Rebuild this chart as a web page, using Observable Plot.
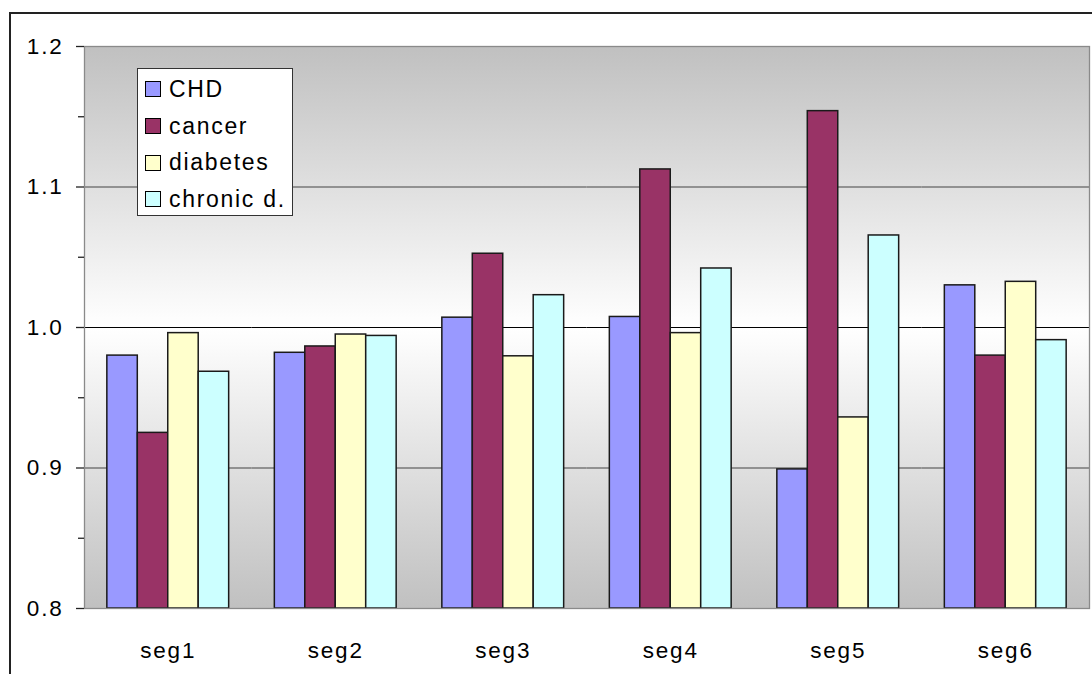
<!DOCTYPE html>
<html>
<head>
<meta charset="utf-8">
<script src="https://cdn.jsdelivr.net/npm/d3@7"></script>
<script src="https://cdn.jsdelivr.net/npm/@observablehq/plot@0.6"></script>
<style>
  html, body { margin: 0; padding: 0; background: #fff; }
  #wrap { position: relative; width: 1092px; height: 674px; overflow: hidden;
          font-family: "Liberation Sans", Arial, sans-serif; }
  #outer { position: absolute; left: 9px; top: 12px; width: 3000px; height: 3000px;
           border-left: 2px solid #222; border-top: 2px solid #222; }
  #chart svg { position: absolute; left: 0; top: 0; }
  #chart svg text { font-size: 22.5px; letter-spacing: 1.8px; }
  #legend { position: absolute; left: 137px; top: 68px; width: 156px; height: 148px;
            background: #fff; border: 1px solid #333; box-sizing: border-box; }
  .item { position: absolute; left: 0; height: 36.7px; display: flex; align-items: center;
          font-size: 23px; letter-spacing: 1.7px; color: #000; white-space: nowrap; }
  .sw { width: 16px; height: 16px; box-sizing: border-box; border: 1px solid #000;
        margin-left: 7px; margin-right: 8px; }
</style>
</head>
<body>
<div id="wrap">
  <div id="outer"></div>
  <div id="chart"></div>
  <div id="legend"></div>
</div>
<script>
// ---- data ----
const segments = ["seg1", "seg2", "seg3", "seg4", "seg5", "seg6"];
const series = ["CHD", "cancer", "diabetes", "chronic d."];
const CHD      = [0.980, 0.982, 1.007, 1.0075, 0.899, 1.030];
const cancer   = [0.925, 0.9865, 1.0525, 1.1125, 1.154, 0.980];
const diabetes = [0.996, 0.995, 0.9795, 0.996, 0.936, 1.0325];
const chronic  = [0.9685, 0.994, 1.023, 1.042, 1.0655, 0.991];
const yTicks = [0.8, 0.9, 1.0, 1.1, 1.2];
const yMinorTicks = [0.85, 0.95, 1.05, 1.15];
const colors = ["#9999FF", "#993366", "#FFFFCC", "#CCFFFF"];

const seriesValues = [CHD, cancer, diabetes, chronic];
const data = [];
segments.forEach((seg, i) => {
  series.forEach((s, j) => data.push({seg, series: s, value: seriesValues[j][i]}));
});

const yMin = yTicks[0], yMax = yTicks[yTicks.length - 1];

// left axis line, bottom axis line and category boundary ticks, positioned with the fx / y scales
const axisFurniture = Plot.frame({
  facet: "super", stroke: "none", fill: "none",
  render(index, scales, values, dims, context, next) {
    const g = next(index, scales, values, dims, context);
    const {fx, y} = scales;
    const step = fx(segments[1]) - fx(segments[0]);
    const edges = segments.map(s => fx(s)).concat([fx(segments[segments.length - 1]) + step]);
    const sel = d3.select(g);
    const y0 = y(yMin), y1 = y(yMax);
    sel.append("line").attr("x1", edges[0]).attr("x2", edges[edges.length - 1])
      .attr("y1", y0).attr("y2", y0).attr("stroke", "#111").attr("stroke-width", 1.4);
    sel.append("line").attr("x1", edges[0]).attr("x2", edges[0])
      .attr("y1", y1).attr("y2", y0).attr("stroke", "#333").attr("stroke-width", 1.4);
    for (const e of edges) {
      sel.append("line").attr("x1", e).attr("x2", e)
        .attr("y1", y0).attr("y2", y0 + 7).attr("stroke", "#222").attr("stroke-width", 1.3);
    }
    return g;
  }
});

const chart = Plot.plot({
  width: 1092, height: 674,
  marginLeft: 84, marginRight: 3, marginTop: 46, marginBottom: 66,
  style: {fontFamily: '"Liberation Sans", Arial, sans-serif', fontSize: "22px",
          background: "transparent", color: "#000", overflow: "visible"},
  fx: {domain: segments, padding: 0, round: false, axis: null},
  x: {domain: series, paddingInner: 0, paddingOuter: 0.75, round: false, axis: null},
  y: {domain: [yMin, yMax], axis: null},
  color: {domain: series, range: colors},
  marks: [
    Plot.frame({facet: "super", fill: "url(#bgGrad)", stroke: "none"}),
    Plot.ruleY([0.9, 1.1], {stroke: "#777", strokeWidth: 1.3}),
    Plot.ruleY([1.0], {stroke: "#000", strokeWidth: 1.2}),
    Plot.barY(data, {fx: "seg", x: "series", y1: yMin, y2: "value", fill: "series",
                     stroke: "#1a1a1a", strokeWidth: 1.5, inset: 0}),
    Plot.frame({facet: "super", stroke: "#8a8a8a", strokeWidth: 1.3}),
    axisFurniture,
    Plot.axisY(yTicks, {tickSize: 8, tickPadding: 13, tickFormat: d3.format(".1f"),
                        label: null, stroke: "#222", strokeWidth: 1.3, fontSize: 22.5}),
    Plot.axisY(yMinorTicks, {tickSize: 6, tickFormat: () => "", label: null,
                             stroke: "#222", strokeWidth: 1.3}),
    Plot.axisFx({anchor: "bottom", tickSize: 0, tickPadding: 34, label: null, fontSize: 22.5})
  ]
});

// gradient background tied to the y scale
const ys = chart.scale("y");
const yScale = d3.scaleLinear().domain(ys.domain).range(ys.range);
const off = v => (yScale(v) - yScale(yMax)) / (yScale(yMin) - yScale(yMax));
const defs = d3.select(chart).insert("defs", ":first-child");
const grad = defs.append("linearGradient").attr("id", "bgGrad")
  .attr("x1", 0).attr("y1", 0).attr("x2", 0).attr("y2", 1);
grad.append("stop").attr("offset", off(yMax)).attr("stop-color", "#c0c0c0");
grad.append("stop").attr("offset", off(1.0)).attr("stop-color", "#ffffff");
grad.append("stop").attr("offset", off(yMin)).attr("stop-color", "#c0c0c0");

document.getElementById("chart").appendChild(chart);

// legend
const legend = document.getElementById("legend");
series.forEach((s, i) => {
  const item = document.createElement("div");
  item.className = "item";
  item.style.top = (2 + i * 36.7) + "px";
  const sw = document.createElement("div");
  sw.className = "sw";
  sw.style.background = colors[i];
  const t = document.createElement("span");
  t.textContent = s;
  item.appendChild(sw);
  item.appendChild(t);
  legend.appendChild(item);
});
</script>
</body>
</html>
